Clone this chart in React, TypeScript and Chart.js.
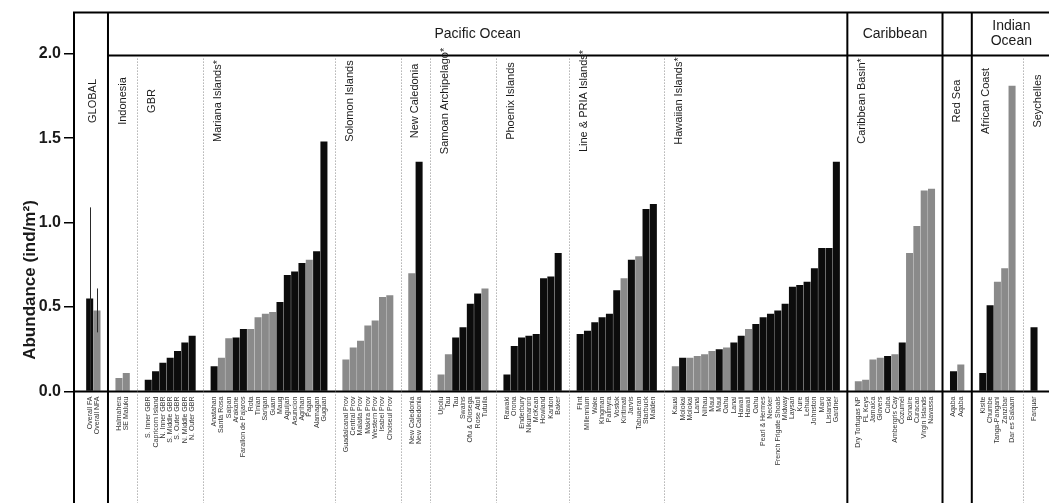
import React, { useEffect, useRef } from 'react';
import { Chart, registerables } from 'chart.js';

Chart.register(...registerables);

const FONT = "'Liberation Sans', Arial, Helvetica, sans-serif";

// ---------- data (FA = dark bars, NFA = grey bars) ----------
const GLOBAL_SITES = ['Overall FA', 'Overall NFA'];
const GLOBAL_VALUES = [0.55, 0.48];
const GLOBAL_TYPES = ['FA', 'NFA'];
const GLOBAL_ERR_LOW = [0.01, 0.35];
const GLOBAL_ERR_HIGH = [1.09, 0.61];

const INDONESIA_SITES = ['Halmahera', 'SE Maluku'];
const INDONESIA_VALUES = [0.08, 0.11];
const INDONESIA_TYPES = ['NFA', 'NFA'];

const GBR_SITES = ['S. Inner GBR', 'Capricorn Island', 'N. Inner GBR', 'S. Middle GBR', 'S. Outer GBR', 'N. Middle GBR', 'N. Outer GBR'];
const GBR_VALUES = [0.07, 0.12, 0.17, 0.2, 0.24, 0.29, 0.33];
const GBR_TYPES = ['FA', 'FA', 'FA', 'FA', 'FA', 'FA', 'FA'];

const MARIANA_SITES = ['Anatahan', 'Santa Rosa', 'Saipan', 'Arakane', 'Farallon de Pajaros', 'Rota', 'Tinian', 'Sarigan', 'Guam', 'Maug', 'Aguijan', 'Asuncion', 'Agrihan', 'Pagan', 'Alamagan', 'Guguan'];
const MARIANA_VALUES = [0.15, 0.2, 0.315, 0.32, 0.37, 0.37, 0.44, 0.46, 0.47, 0.53, 0.69, 0.71, 0.76, 0.78, 0.83, 1.48];
const MARIANA_TYPES = ['FA', 'NFA', 'NFA', 'FA', 'FA', 'NFA', 'NFA', 'NFA', 'NFA', 'FA', 'FA', 'FA', 'FA', 'NFA', 'FA', 'FA'];

const SOLOMON_SITES = ['Guadalcanal Prov', 'Central Prov', 'Malaita Prov', 'Makira Prov', 'Western Prov', 'Isabel Prov', 'Choiseul Prov'];
const SOLOMON_VALUES = [0.19, 0.26, 0.3, 0.39, 0.42, 0.56, 0.57];
const SOLOMON_TYPES = ['NFA', 'NFA', 'NFA', 'NFA', 'NFA', 'NFA', 'NFA'];

const NEWCAL_SITES = ['New Caledonia', 'New Caledonia'];
const NEWCAL_VALUES = [0.7, 1.36];
const NEWCAL_TYPES = ['NFA', 'FA'];

const SAMOA_SITES = ['Upolu', 'Tau', 'Tau', 'Swains', 'Ofu & Olosega', 'Rose Atoll', 'Tutuila'];
const SAMOA_VALUES = [0.1, 0.22, 0.32, 0.38, 0.52, 0.58, 0.61];
const SAMOA_TYPES = ['NFA', 'NFA', 'FA', 'FA', 'FA', 'FA', 'NFA'];

const PHOENIX_SITES = ['Rawaki', 'Orona', 'Enderbury', 'Nikumaroro', 'McKean', 'Howland', 'Kanton', 'Baker'];
const PHOENIX_VALUES = [0.1, 0.27, 0.32, 0.33, 0.34, 0.67, 0.68, 0.82];
const PHOENIX_TYPES = ['FA', 'FA', 'FA', 'FA', 'FA', 'FA', 'FA', 'FA'];

const LINE_SITES = ['Flint', 'Millennium', 'Wake', 'Kingman', 'Palmyra', 'Vostok', 'Kiritimati', 'Jarvis', 'Tabuaeran', 'Starbuck', 'Malden'];
const LINE_VALUES = [0.34, 0.36, 0.41, 0.44, 0.46, 0.6, 0.67, 0.78, 0.8, 1.08, 1.11];
const LINE_TYPES = ['FA', 'FA', 'FA', 'FA', 'FA', 'FA', 'NFA', 'FA', 'NFA', 'FA', 'FA'];

const HAWAII_SITES = ['Kauai', 'Molokai', 'Molokai', 'Lanai', 'Niihau', 'Maui', 'Maui', 'Oahu', 'Lanai', 'Hawaii', 'Hawaii', 'Oahu', 'Pearl & Hermes', 'Necker', 'French Frigate Shoals', 'Midway', 'Laysan', 'Kure', 'Lehua', 'Johnston', 'Maro', 'Lisianski', 'Gardner'];
const HAWAII_VALUES = [0.15, 0.2, 0.2, 0.21, 0.22, 0.24, 0.25, 0.26, 0.29, 0.33, 0.37, 0.4, 0.44, 0.46, 0.48, 0.52, 0.62, 0.63, 0.65, 0.73, 0.85, 0.85, 1.36];
const HAWAII_TYPES = ['NFA', 'FA', 'NFA', 'NFA', 'NFA', 'NFA', 'FA', 'NFA', 'FA', 'FA', 'NFA', 'FA', 'FA', 'FA', 'FA', 'FA', 'FA', 'FA', 'FA', 'FA', 'FA', 'FA', 'FA'];

const CARIB_SITES = ['Dry Tortugas NP', 'FL Keys', 'Jamaica', 'Glovers', 'Cuba', 'Ambergris Cay', 'Cozumel', 'Bonaire', 'Curacao', 'Virgin Islands', 'Navassa'];
const CARIB_VALUES = [0.06, 0.07, 0.19, 0.2, 0.21, 0.22, 0.29, 0.82, 0.98, 1.19, 1.2];
const CARIB_TYPES = ['NFA', 'NFA', 'NFA', 'NFA', 'FA', 'NFA', 'FA', 'NFA', 'NFA', 'NFA', 'NFA'];

const REDSEA_SITES = ['Aqaba', 'Aqaba'];
const REDSEA_VALUES = [0.12, 0.16];
const REDSEA_TYPES = ['FA', 'NFA'];

const AFRICA_SITES = ['Kisite', 'Chumbe', 'Tanga-Pangani', 'Zanzibar', 'Dar es Salaam'];
const AFRICA_VALUES = [0.11, 0.51, 0.65, 0.73, 1.81];
const AFRICA_TYPES = ['FA', 'FA', 'NFA', 'NFA', 'NFA'];

const SEYCHELLES_SITES = ['Farquar'];
const SEYCHELLES_VALUES = [0.38];
const SEYCHELLES_TYPES = ['FA'];

const MAJOR_NAMES = ['', 'Pacific Ocean', 'Caribbean', '', 'Indian Ocean'];
const Y_TICKS = [0, 0.5, 1, 1.5, 2];

type Group = { major: number; name: string; sites: string[]; values: number[]; types: string[] };

const GROUPS: Group[] = [
  { major: 0, name: 'GLOBAL', sites: GLOBAL_SITES, values: GLOBAL_VALUES, types: GLOBAL_TYPES },
  { major: 1, name: 'Indonesia', sites: INDONESIA_SITES, values: INDONESIA_VALUES, types: INDONESIA_TYPES },
  { major: 1, name: 'GBR', sites: GBR_SITES, values: GBR_VALUES, types: GBR_TYPES },
  { major: 1, name: 'Mariana Islands*', sites: MARIANA_SITES, values: MARIANA_VALUES, types: MARIANA_TYPES },
  { major: 1, name: 'Solomon Islands', sites: SOLOMON_SITES, values: SOLOMON_VALUES, types: SOLOMON_TYPES },
  { major: 1, name: 'New Caledonia', sites: NEWCAL_SITES, values: NEWCAL_VALUES, types: NEWCAL_TYPES },
  { major: 1, name: 'Samoan Archipelago*', sites: SAMOA_SITES, values: SAMOA_VALUES, types: SAMOA_TYPES },
  { major: 1, name: 'Phoenix Islands', sites: PHOENIX_SITES, values: PHOENIX_VALUES, types: PHOENIX_TYPES },
  { major: 1, name: 'Line & PRIA Islands*', sites: LINE_SITES, values: LINE_VALUES, types: LINE_TYPES },
  { major: 1, name: 'Hawaiian Islands*', sites: HAWAII_SITES, values: HAWAII_VALUES, types: HAWAII_TYPES },
  { major: 2, name: 'Caribbean Basin*', sites: CARIB_SITES, values: CARIB_VALUES, types: CARIB_TYPES },
  { major: 3, name: 'Red Sea', sites: REDSEA_SITES, values: REDSEA_VALUES, types: REDSEA_TYPES },
  { major: 4, name: 'African Coast', sites: AFRICA_SITES, values: AFRICA_VALUES, types: AFRICA_TYPES },
  { major: 4, name: 'Seychelles', sites: SEYCHELLES_SITES, values: SEYCHELLES_VALUES, types: SEYCHELLES_TYPES },
];

// ---------- layout of slots (one blank slot on each side of every group) ----------
type Placed = Group & { start: number };
const PLACED: Placed[] = [];
let cursor = 0;
for (const g of GROUPS) {
  PLACED.push({ ...g, start: cursor });
  cursor += g.sites.length + 2;
}
const TOTAL_SLOTS = cursor;

const siteLabels: { x: number; text: string }[] = [];
const faPoints: { x: number; y: number }[] = [];
const nfaPoints: { x: number; y: number }[] = [];
for (const g of PLACED) {
  g.sites.forEach((s, i) => {
    const x = g.start + 1 + i;
    siteLabels.push({ x, text: s });
    if (g.types[i] === 'FA') faPoints.push({ x, y: g.values[i] });
    else nfaPoints.push({ x, y: g.values[i] });
  });
}

const X_MIN = -0.5 - 0.642;
const X_MAX = TOTAL_SLOTS - 0.5 + 0.806;
const Y_MIN = -0.923;
const Y_MAX = 2.243;

const overlayPlugin = {
  id: 'overlay',
  afterDatasetsDraw(chart: any) {
    const { ctx, chartArea } = chart;
    const xs = chart.scales.x;
    const ys = chart.scales.y;
    const L = chartArea.left;
    const R = chartArea.right;
    const T = chartArea.top;
    const B = chartArea.bottom;
    const y0 = ys.getPixelForValue(0);
    const headY = T + 43;
    ctx.save();

    // error bars for the global means
    ctx.strokeStyle = '#2a2a2a';
    ctx.lineWidth = 1;
    GLOBAL_ERR_LOW.forEach((lo, i) => {
      const px = Math.round(xs.getPixelForValue(PLACED[0].start + 1 + i)) + 0.5;
      ctx.beginPath();
      ctx.moveTo(px, ys.getPixelForValue(lo));
      ctx.lineTo(px, ys.getPixelForValue(GLOBAL_ERR_HIGH[i]));
      ctx.stroke();
    });

    // zero line
    ctx.strokeStyle = '#000';
    ctx.lineWidth = 2;
    ctx.beginPath();
    ctx.moveTo(L, y0);
    ctx.lineTo(R, y0);
    ctx.stroke();

    // outer border
    ctx.beginPath();
    ctx.moveTo(L, B);
    ctx.lineTo(L, T);
    ctx.lineTo(R, T);
    ctx.lineTo(R, B);
    ctx.stroke();

    // header bottom line (not over the GLOBAL column)
    const pacificStart = xs.getPixelForValue(PLACED[1].start - 0.5);
    ctx.beginPath();
    ctx.moveTo(pacificStart, headY);
    ctx.lineTo(R, headY);
    ctx.stroke();

    // separators
    for (let gi = 1; gi < PLACED.length; gi++) {
      const g = PLACED[gi];
      const bx = xs.getPixelForValue(g.start - 0.5);
      if (g.major !== PLACED[gi - 1].major) {
        ctx.setLineDash([]);
        ctx.strokeStyle = '#000';
        ctx.lineWidth = 2;
        ctx.beginPath();
        ctx.moveTo(bx, T);
        ctx.lineTo(bx, B);
        ctx.stroke();
      } else {
        ctx.setLineDash([1, 2]);
        ctx.strokeStyle = '#8a8a8a';
        ctx.lineWidth = 1;
        ctx.beginPath();
        const px = Math.round(bx) + 0.5;
        ctx.moveTo(px, headY + 3);
        ctx.lineTo(px, B);
        ctx.stroke();
      }
    }
    ctx.setLineDash([]);

    // major headers
    ctx.fillStyle = '#1a1a1a';
    ctx.textAlign = 'center';
    ctx.textBaseline = 'middle';
    ctx.font = `14px ${FONT}`;
    MAJOR_NAMES.forEach((name, mi) => {
      if (!name) return;
      const members = PLACED.filter((g) => g.major === mi);
      const first = members[0];
      const last = members[members.length - 1];
      const x1 = xs.getPixelForValue(first.start - 0.5);
      const isLastMajor = mi === MAJOR_NAMES.length - 1;
      const x2 = isLastMajor ? R : xs.getPixelForValue(last.start + last.sites.length + 1.5);
      const cx = (x1 + x2) / 2;
      const cy = (T + headY) / 2;
      const words = name.split(' ');
      if (x2 - x1 < 90 && words.length > 1) {
        ctx.fillText(words[0], cx, cy - 7.5);
        ctx.fillText(words.slice(1).join(' '), cx, cy + 7.5);
      } else {
        ctx.fillText(name, cx, cy);
      }
    });

    // group labels (rotated)
    ctx.font = `11px ${FONT}`;
    PLACED.forEach((g) => {
      const cx = xs.getPixelForValue(g.start + 1.5);
      ctx.save();
      ctx.translate(cx, 101);
      ctx.rotate(-Math.PI / 2);
      ctx.fillText(g.name, 0, 0);
      ctx.restore();
    });

    // site labels (rotated)
    ctx.font = `7px ${FONT}`;
    ctx.fillStyle = '#333';
    ctx.textAlign = 'right';
    siteLabels.forEach((s) => {
      const px = xs.getPixelForValue(s.x);
      ctx.save();
      ctx.translate(px, y0 + 5);
      ctx.rotate(-Math.PI / 2);
      ctx.fillText(s.text, 0, 0);
      ctx.restore();
    });

    ctx.restore();
  },
};

export default function App() {
  const ref = useRef<HTMLCanvasElement | null>(null);

  useEffect(() => {
    if (!ref.current) return;
    const chart = new Chart(ref.current, {
      type: 'bar',
      data: {
        datasets: [
          {
            label: 'FA',
            data: faPoints,
            backgroundColor: '#0c0c0c',
            borderWidth: 0,
            grouped: false,
            barPercentage: 0.96,
            categoryPercentage: 1,
          },
          {
            label: 'NFA',
            data: nfaPoints,
            backgroundColor: '#8a8a8a',
            borderWidth: 0,
            grouped: false,
            barPercentage: 0.96,
            categoryPercentage: 1,
          },
        ],
      } as any,
      options: {
        responsive: false,
        animation: false,
        events: [],
        layout: { padding: { top: 6, right: 1.1, bottom: 0, left: 0 } },
        plugins: { legend: { display: false }, tooltip: { enabled: false } },
        scales: {
          x: {
            type: 'linear',
            display: false,
            offset: false,
            min: X_MIN,
            max: X_MAX,
            ticks: { stepSize: 50 },
          },
          y: {
            type: 'linear',
            min: Y_MIN,
            max: Y_MAX,
            afterFit: (s: any) => {
              s.width = 74;
            },
            afterBuildTicks: (s: any) => {
              s.ticks = Y_TICKS.map((v) => ({ value: v }));
            },
            ticks: {
              callback: (v: any) => Number(v).toFixed(1),
              font: { family: FONT, size: 16, weight: 'bold' },
              color: '#1a1a1a',
              padding: 3,
            },
            grid: { drawOnChartArea: false, drawTicks: true, tickLength: 10, color: '#000', lineWidth: 1.5 },
            border: { display: false },
            title: {
              display: true,
              text: 'Abundance (ind/m²)',
              font: { family: FONT, size: 17, weight: 'bold' },
              color: '#1a1a1a',
              padding: { top: 20, bottom: 0 },
            },
          },
        },
      } as any,
      plugins: [overlayPlugin],
    });
    return () => chart.destroy();
  }, []);

  return (
    <div style={{ position: 'fixed', left: 0, top: 0, width: 1049, height: 503, overflow: 'hidden', background: '#fff' }}>
      <canvas ref={ref} width={1052} height={560} style={{ display: 'block' }} />
    </div>
  );
}
